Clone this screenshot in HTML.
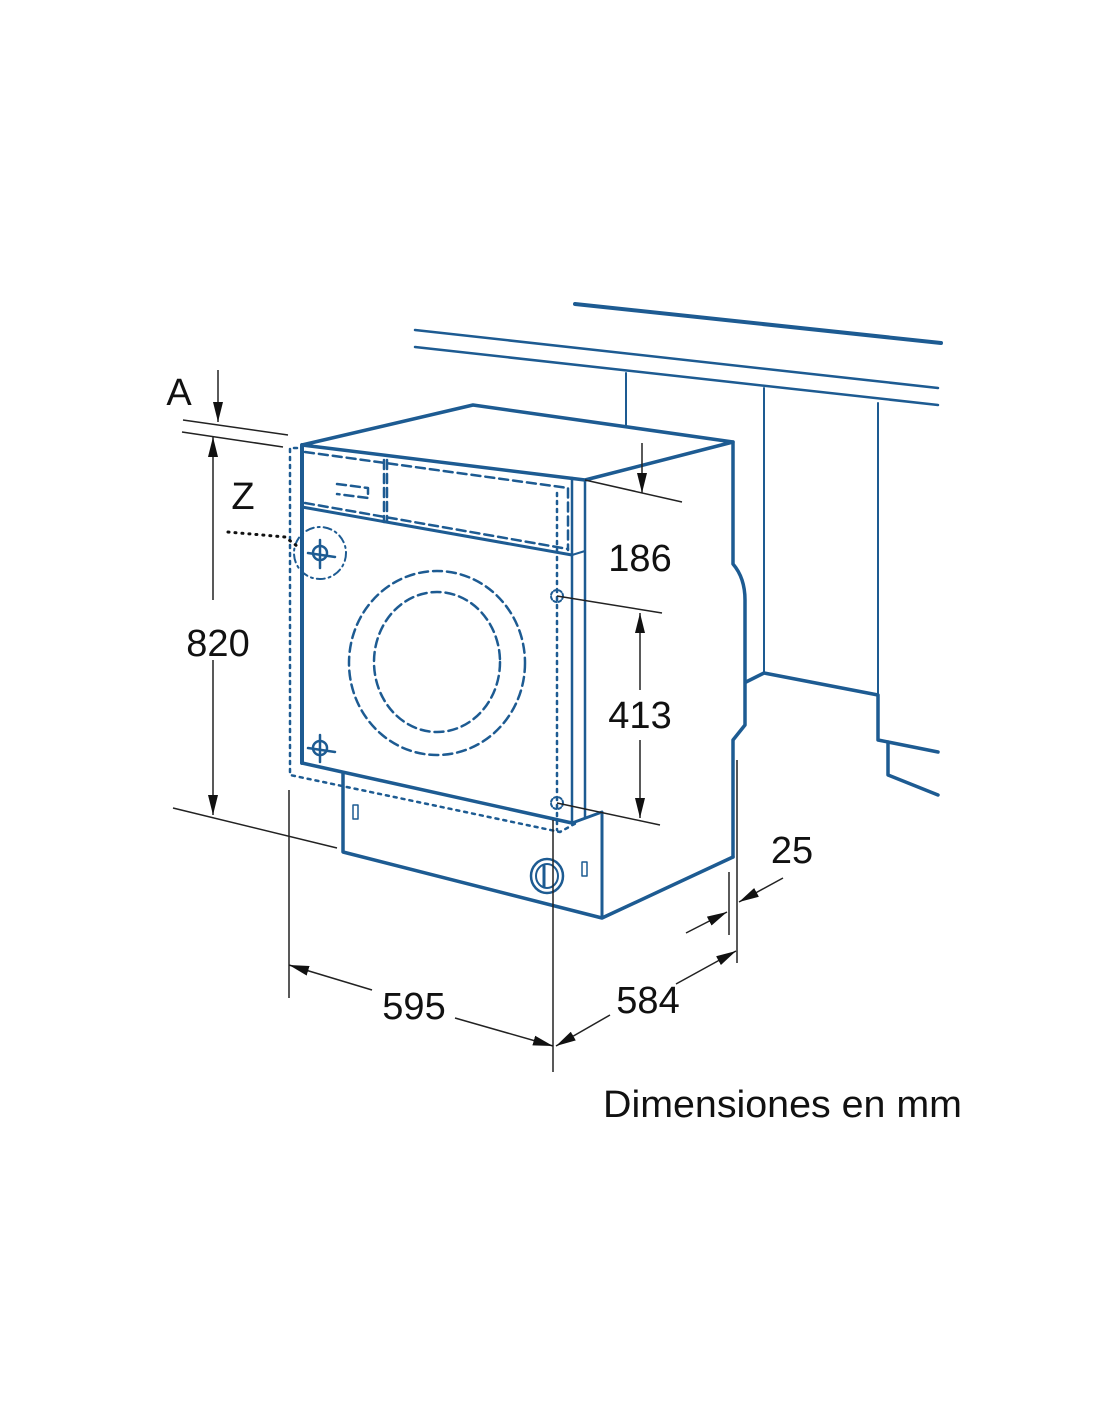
<!DOCTYPE html>
<html><head><meta charset="utf-8"><style>html,body{margin:0;padding:0;background:#fff}svg{display:block}</style></head>
<body>
<svg width="1100" height="1422" viewBox="0 0 1100 1422" xmlns="http://www.w3.org/2000/svg">
<defs>
<marker id="ar" viewBox="0 0 20 10" refX="20" refY="5" markerWidth="20" markerHeight="10" markerUnits="userSpaceOnUse" orient="auto"><path d="M0,0 L20,5 L0,10 z" fill="#111"/></marker>
</defs>
<g fill="none" stroke="#1d5b92" stroke-linecap="round" stroke-linejoin="round">
<!-- wall -->
<line x1="575" y1="304" x2="941" y2="343" stroke-width="4"/>
<line x1="415" y1="330" x2="938" y2="388" stroke-width="2.5"/>
<line x1="415" y1="347" x2="938" y2="405" stroke-width="2.5"/>
<line x1="626" y1="373" x2="626" y2="425" stroke-width="2"/>
<line x1="764" y1="388" x2="764" y2="673" stroke-width="2"/>
<line x1="878" y1="403" x2="878" y2="695" stroke-width="2"/>
<polyline points="746,682 764,673 878,695 878,740 938,752" stroke-width="3.5"/>
<polyline points="888,742 888,775 938,795" stroke-width="3.5"/>
<!-- machine body -->
<polyline points="302,445 473,405 733,442 585,480 302,445" stroke-width="3.5"/>
<path d="M733,442 L733,564 Q745,578 745,600 L745,725 L733,740 L733,857" stroke-width="3.5"/>
<line x1="302" y1="445" x2="302" y2="763" stroke-width="4"/>
<line x1="572" y1="478" x2="572" y2="823" stroke-width="2.5"/>
<line x1="585" y1="480" x2="585" y2="817" stroke-width="2.5"/>
<line x1="302" y1="763" x2="572" y2="823" stroke-width="3.5"/>
<line x1="302" y1="507" x2="572" y2="555" stroke-width="3"/>
<line x1="572" y1="555" x2="585" y2="551" stroke-width="2"/>
<polyline points="572,823 602,812 602,918" stroke-width="3"/>
<polyline points="343,773 343,852 602,918 733,857" stroke-width="3.5"/>
<!-- dashed control panel -->
<g stroke-dasharray="9,5" stroke-width="2.5">
<polyline points="305,452 568,488 568,550"/>
<line x1="305" y1="503" x2="568" y2="549"/>
<line x1="387" y1="460" x2="387" y2="522"/>
<line x1="384" y1="460" x2="384" y2="522"/>
<polyline points="337,484 368,488 368,498 337,494"/>
<ellipse cx="437" cy="663" rx="88" ry="92"/>
<ellipse cx="437" cy="662" rx="63" ry="70"/>
</g>
<!-- dotted outline -->
<g stroke-dasharray="3,5" stroke-width="2.5">
<polyline points="297,448 290,448 290,775 560,832 578,822"/>
<line x1="557" y1="493" x2="557" y2="830"/>
</g>
<!-- Z circle and crosses -->
<circle cx="320" cy="553" r="26" stroke-dasharray="8,4,2,4" stroke-width="2"/>
<circle cx="320" cy="553" r="7" stroke-width="2.5"/>
<line x1="320" y1="540" x2="320" y2="568" stroke-width="2.5"/>
<line x1="308" y1="553" x2="335" y2="557" stroke-width="2.5"/>
<circle cx="320" cy="748" r="7" stroke-width="2.5"/>
<line x1="320" y1="735" x2="320" y2="762" stroke-width="2.5"/>
<line x1="308" y1="748" x2="335" y2="752" stroke-width="2.5"/>
<circle cx="557" cy="596" r="6" stroke-dasharray="3,2" stroke-width="2"/>
<circle cx="557" cy="803" r="6" stroke-dasharray="3,2" stroke-width="2"/>
<!-- plinth details -->
<rect x="353" y="805" width="5" height="14" stroke-width="1.5"/>
<rect x="582" y="862" width="5" height="14" stroke-width="1.5"/>
<ellipse cx="547" cy="876" rx="16" ry="17" stroke-width="2.5"/>
<ellipse cx="547" cy="876" rx="11" ry="12" stroke-width="2"/>
<line x1="544" y1="866" x2="544" y2="887" stroke-width="3"/>
</g>
<!-- dimension lines -->
<g stroke="#222" stroke-width="1.5" fill="none">
<line x1="218" y1="370" x2="218" y2="422" marker-end="url(#ar)"/>
<line x1="183" y1="420" x2="288" y2="435"/>
<line x1="182" y1="432" x2="283" y2="447"/>
<line x1="213" y1="600" x2="213" y2="437" marker-end="url(#ar)"/>
<line x1="213" y1="660" x2="213" y2="815" marker-end="url(#ar)"/>
<line x1="173" y1="808" x2="337" y2="848"/>
<line x1="289" y1="790" x2="289" y2="998"/>
<line x1="553" y1="820" x2="553" y2="1072"/>
<line x1="737" y1="760" x2="737" y2="963"/>
<line x1="729" y1="872" x2="729" y2="935"/>
<line x1="585" y1="480" x2="682" y2="502"/>
<line x1="557" y1="596" x2="662" y2="613"/>
<line x1="557" y1="803" x2="660" y2="825"/>
<line x1="642" y1="443" x2="642" y2="493" marker-end="url(#ar)"/>
<line x1="640" y1="690" x2="640" y2="613" marker-end="url(#ar)"/>
<line x1="640" y1="740" x2="640" y2="818" marker-end="url(#ar)"/>
<line x1="372" y1="990" x2="289" y2="965" marker-end="url(#ar)"/>
<line x1="455" y1="1018" x2="553" y2="1046" marker-end="url(#ar)"/>
<line x1="610" y1="1015" x2="556" y2="1046" marker-end="url(#ar)"/>
<line x1="676" y1="984" x2="736" y2="951" marker-end="url(#ar)"/>
<line x1="686" y1="933" x2="727" y2="912" marker-end="url(#ar)"/>
<line x1="783" y1="878" x2="739" y2="902" marker-end="url(#ar)"/>
</g>
<g stroke="#111" stroke-width="3" stroke-dasharray="1,6" stroke-linecap="round" fill="none">
<polyline points="228,532 285,537 297,546"/>
</g>
<g font-family="Liberation Sans, Arial, sans-serif" fill="#111" font-size="38" text-anchor="middle">
<text x="179" y="405">A</text>
<text x="243" y="509">Z</text>
<text x="218" y="656">820</text>
<text x="640" y="571">186</text>
<text x="640" y="728">413</text>
<text x="414" y="1019">595</text>
<text x="648" y="1013">584</text>
<text x="792" y="863">25</text>
<text x="603" y="1117" text-anchor="start" textLength="359" lengthAdjust="spacingAndGlyphs">Dimensiones en mm</text>
</g>
</svg>
</body></html>
